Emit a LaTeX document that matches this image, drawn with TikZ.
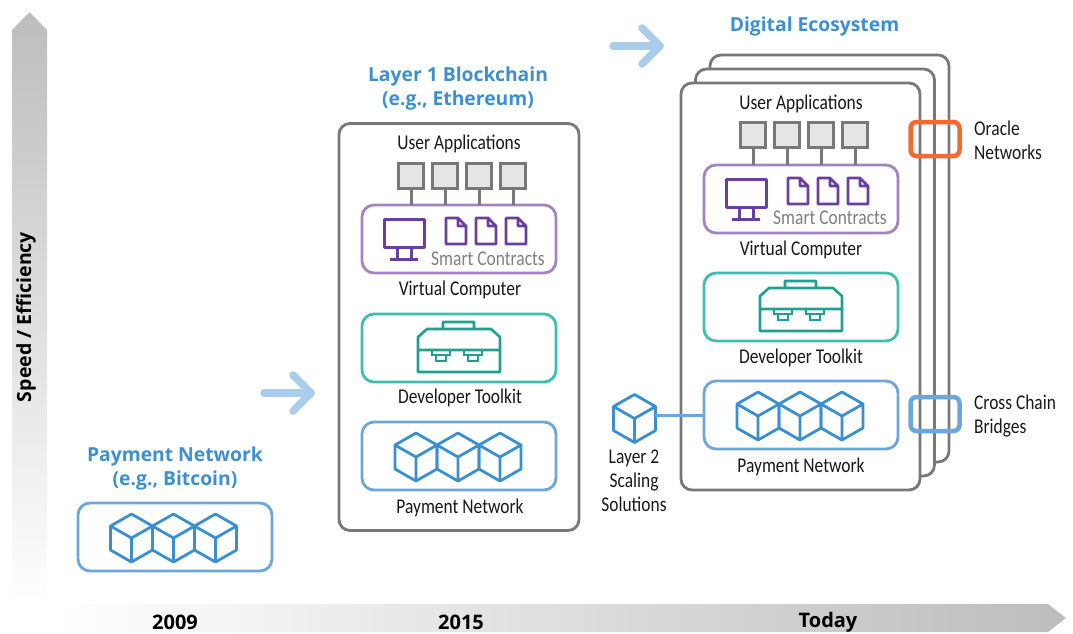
\documentclass[tikz,border=0pt]{standalone}
\usepackage{fontspec}
\setmainfont{Carlito}
\newfontfamily\headfont{Open Sans}
\definecolor{headblue}{HTML}{3E8FCF}
\definecolor{cubeblue}{HTML}{3A8FD0}
\definecolor{payblue}{HTML}{6CA6DA}
\definecolor{arrowblue}{HTML}{AACDEC}
\definecolor{vmpurple}{HTML}{A184C1}
\definecolor{iconpurple}{HTML}{6B3FA0}
\definecolor{devteal}{HTML}{3DBFB0}
\definecolor{iconteal}{HTML}{1FA090}
\definecolor{stackgray}{HTML}{77787B}
\definecolor{oracleorange}{HTML}{F26A32}
\tikzset{
    label/.style={font=\fontsize{21}{24}\selectfont,text=black!90,align=center,inner sep=0pt,xscale=0.83},
    heading/.style={font=\headfont\bfseries\fontsize{19.3}{24}\selectfont,text=headblue,align=center,inner sep=0pt},
    yearlabel/.style={font=\headfont\bfseries\fontsize{20}{24}\selectfont,text=black,inner sep=0pt},
    stack/.style={draw=stackgray,line width=2.8pt,rounded corners=11pt,fill=white,minimum width=239pt,minimum height=407pt,inner sep=0pt},
    panel/.style={line width=2.8pt,rounded corners=12pt,fill=white,minimum width=194pt,minimum height=68pt,inner sep=0pt},
    appbox/.style={draw=stackgray,line width=3pt,fill=black!10,minimum size=25pt,inner sep=0pt},
    link/.style={stackgray,line width=3pt},
    progress/.style={arrowblue,line width=7.5pt,line cap=round,line join=round},
    tag/.style={line width=4.5pt,rounded corners=6pt,minimum width=49pt,minimum height=34pt,inner sep=0pt},
    pics/cubes/.style={code={
        \foreach \cx in {-42,0,42} {
            \draw[cubeblue,line width=2.8pt,line join=round]
                (\cx-21,-12) -- (\cx,-24) -- (\cx+21,-12) -- (\cx+21,12) -- (\cx,24) -- (\cx-21,12) -- cycle
                (\cx-21,-12) -- (\cx,0) -- (\cx+21,-12) (\cx,0) -- (\cx,24);
        }
    }},
    pics/onecube/.style={code={
        \draw[cubeblue,line width=2.8pt,line join=round]
            (-21,-12) -- (0,-24) -- (21,-12) -- (21,12) -- (0,24) -- (-21,12) -- cycle
            (-21,-12) -- (0,0) -- (21,-12) (0,0) -- (0,24);
    }},
    pics/toolbox/.style={code={
        \draw[iconteal,line width=2.6pt,line join=round]
            (-41,-15) -- (-41,-2) -- (41,-2) -- (41,-15) -- (32,-23) -- (-32,-23) -- cycle
            (-41,-2) -- (-41,20) -- (41,20) -- (41,-2)
            (-16,-23) -- (-16,-30) -- (15,-30) -- (15,-23);
        \foreach \cx in {-18,14} {
            \draw[iconteal,line width=2.4pt] (\cx-9,-2) -- (\cx-9,3) -- (\cx-5,3) -- (\cx-5,9) -- (\cx+5,9) -- (\cx+5,3) -- (\cx+9,3) -- (\cx+9,-2);
            \draw[iconteal,line width=2.4pt] (\cx-5,3) -- (\cx+5,3);
        }
    }},
    pics/monitor/.style={code={
        \draw[iconpurple,line width=3pt,line join=round] (-20,-19) rectangle (20,9);
        \draw[iconpurple,line width=3pt] (-7,9) -- (-7,21) (7,9) -- (7,21) (-14,21) -- (14,21);
    }},
    pics/contract/.style={code={
        \draw[iconpurple,line width=2.8pt,line join=round] (-10,-13) -- (2,-13) -- (10,-5) -- (10,13) -- (-10,13) -- cycle
            (2,-13) -- (2,-5) -- (10,-5);
    }}
}
\begin{document}
\begin{tikzpicture}[x=1pt,y=-1pt]
      \useasboundingbox (0,0) rectangle (1073,633);
      % axes
      \shade[top color=black!26,bottom color=white] (12,30) -- (29.5,12) -- (47,30) -- (47,608) -- (12,608) -- cycle;
      \shade[left color=white,right color=black!26] (58,604) -- (1048,604) -- (1066,618) -- (1048,632) -- (58,632) -- cycle;
      \node[rotate=90,inner sep=0pt,font=\headfont\bfseries\fontsize{19.5}{20}\selectfont] (speed) at (26,317) {Speed / Efficiency};
      \node[yearlabel] (y2009) at (175,622) {2009};
      \node[yearlabel] (y2015) at (461,622) {2015};
      \node[yearlabel] (ytoday) at (828,622) {Today};
      % payment network
      \node[heading] (bitcoin) at (175,468) {Payment Network\\(e.g., Bitcoin)};
      \node[panel,draw=payblue] (btcpanel) at (175,537) {};
      \pic at (173.5,538) {cubes};
      % layer 1
      \node[heading] (ethereum) at (458,88) {Layer 1 Blockchain\\(e.g., Ethereum)};
      \node[stack,minimum width=240pt] (ethstack) at (459,327) {};
      \node[label] (ethapps) at (459,144) {User Applications};
      \node[panel,draw=vmpurple] (ethvm) at (459,239) {};
      \foreach \n/\x in {a/411,b/445,c/479,d/513} {
          \node[appbox] (eth\n) at (\x,176) {};
          \draw[link] (eth\n) -- (\x,205);
      }
      \pic at (404,238) {monitor};
      \foreach \x in {456,486,516} \pic at (\x,231) {contract};
      \node[label,text=black!50] (ethsc) at (488,259) {Smart Contracts};
      \node[label] (ethvc) at (460,290) {Virtual Computer};
      \node[panel,draw=devteal] (ethdev) at (459,348) {};
      \pic at (459,352) {toolbox};
      \node[label] (ethdk) at (460,398) {Developer Toolkit};
      \node[panel,draw=payblue] (ethpay) at (459,456) {};
      \pic at (458,457) {cubes};
      \node[label] (ethpn) at (460,508) {Payment Network};
      % progress arrows
      \draw[progress] (264,393) -- (311,393);
      \draw[progress] (293,375) -- (311,393) -- (293,411);
      \draw[progress] (613,46) -- (660,46);
      \draw[progress] (642,28) -- (660,46) -- (642,64);
      % digital ecosystem
      \node[heading] (ecosystem) at (814.5,26) {Digital Ecosystem};
      \node[stack] (stackc) at (829.5,258.5) {};
      \node[stack] (stackb) at (815,272.5) {};
      \node[stack] (stacka) at (800.5,286.5) {};
      \node[label] (ecoapps) at (801,104) {User Applications};
      \node[panel,draw=vmpurple] (ecovm) at (801,199) {};
      \foreach \n/\x in {a/753,b/787,c/821,d/855} {
          \node[appbox] (eco\n) at (\x,135) {};
          \draw[link] (eco\n) -- (\x,165);
      }
      \pic at (746,198) {monitor};
      \foreach \x in {798,828,858} \pic at (\x,191) {contract};
      \node[label,text=black!50] (ecosc) at (830,218) {Smart Contracts};
      \node[label] (ecovc) at (801,250) {Virtual Computer};
      \node[panel,draw=devteal] (ecodev) at (801,307) {};
      \pic at (801,311) {toolbox};
      \node[label] (ecodk) at (801,358) {Developer Toolkit};
      \node[panel,draw=payblue] (ecopay) at (801,415) {};
      \pic at (800,416) {cubes};
      \node[label] (ecopn) at (801,467) {Payment Network};
      % layer 2
      \pic at (634.5,418.5) {onecube};
      \coordinate (l2end) at (655,415);
      \draw[payblue,line width=3pt] (l2end) -- (ecopay);
      \node[label] (layer2) at (634,481) {Layer 2\\Scaling\\Solutions};
      % tags
      \node[tag,draw=oracleorange] (oracle) at (935,139) {};
      \node[label,anchor=west,align=left] (oraclelab) at (974,140) {Oracle\\Networks};
      \node[tag,draw=payblue] (bridge) at (935,414) {};
      \node[label,anchor=west,align=left] (bridgelab) at (974,416) {Cross Chain\\Bridges};
\end{tikzpicture}
\end{document}
